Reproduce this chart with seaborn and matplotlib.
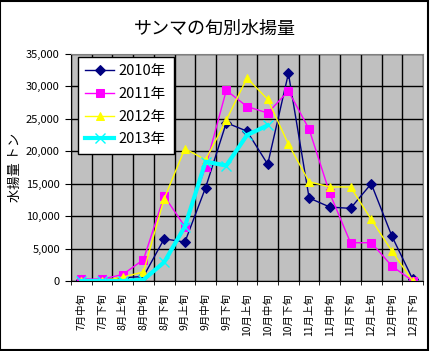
import matplotlib
matplotlib.use('Agg')
import matplotlib.pyplot as plt
from matplotlib.patches import Rectangle
from matplotlib.ticker import FuncFormatter, MultipleLocator
import seaborn as sns
import pandas as pd

# 旬のカテゴリ
periods = ['7月中旬', '7月下旬', '8月上旬', '8月中旬', '8月下旬', '9月上旬', '9月中旬',
           '9月下旬', '10月上旬', '10月中旬', '10月下旬', '11月上旬', '11月中旬',
           '11月下旬', '12月上旬', '12月中旬', '12月下旬']

# 年別の水揚量 (トン)
catch_2010 = [100, 100, 500, 700, 6500, 6000, 14400, 24400, 23100, 18000,
              32000, 12800, 11400, 11200, 15000, 6900, 300]
catch_2011 = [300, 300, 1000, 3300, 13100, 8400, 17600, 29400, 26900, 25900,
              29300, 23400, 13500, 5900, 5900, 2300, 0]
catch_2012 = [0, 0, 600, 1400, 12700, 20400, 18700, 24800, 31300, 28000,
              21100, 15300, 14500, 14500, 9500, 4600, 0]
catch_2013 = [0, 0, 0, 200, 2900, 8400, 18400, 17800, 22500, 24000]

series_names = ['2010年', '2011年', '2012年', '2013年']
series_data = [catch_2010, catch_2011, catch_2012, catch_2013]

styles = {
    '2010年': dict(color='#000080', marker='D', markersize=5, linewidth=1),
    '2011年': dict(color='#FF00FF', marker='s', markersize=5.5, linewidth=1),
    '2012年': dict(color='#FFFF00', marker='^', markersize=6, linewidth=1),
    '2013年': dict(color='#00FFFF', marker='x', markersize=7, linewidth=3,
                  markeredgewidth=1),
}

plt.rcParams['font.family'] = ['Noto Sans CJK JP', 'DejaVu Sans']

fig = plt.figure(figsize=(4.32, 3.51), dpi=100)
fig.patch.set_facecolor('white')
ax = fig.add_axes([71 / 432, 1 - 281 / 351, 352 / 432, 227 / 351])
ax.set_facecolor('#C0C0C0')

for name, vals in zip(series_names, series_data):
    df = pd.DataFrame({'旬': periods[:len(vals)], '水揚量': vals})
    st = styles[name]
    sns.lineplot(data=df, x='旬', y='水揚量', ax=ax, label=name, sort=False,
                 markeredgecolor=st['color'], markerfacecolor=st['color'], **st)

ax.set_xlim(-0.5, len(periods) - 0.5)
ax.set_ylim(0, 35000)
ax.yaxis.set_major_locator(MultipleLocator(5000))
ax.yaxis.set_major_formatter(FuncFormatter(lambda v, p: f'{v:,.0f}'))
ax.set_xticks(range(len(periods)))
ax.set_xticklabels(periods, rotation=90, fontsize=7.5)
ax.set_xticks([i - 0.5 for i in range(len(periods) + 1)], minor=True)
ax.tick_params(axis='x', which='major', length=0, pad=9)
ax.tick_params(axis='x', which='minor', length=3, color='black')
ax.tick_params(axis='y', length=4, color='black', labelsize=8, pad=4)

ax.grid(axis='y', which='major', color='black', linewidth=1)
ax.grid(axis='x', which='minor', color='black', linewidth=1)
ax.set_axisbelow(True)
for s in ['left', 'bottom']:
    ax.spines[s].set_color('black')
for s in ['top', 'right']:
    ax.spines[s].set_color('#808080')

ax.set_xlabel('')
ax.set_ylabel('水揚量 トン', fontsize=9.5, labelpad=3)

leg = ax.legend(loc='upper left', bbox_to_anchor=(0.02, 0.987), borderaxespad=0,
                fancybox=False, edgecolor='black', framealpha=1, fontsize=10.5,
                handlelength=2.0, labelspacing=0.6, borderpad=0.5,
                handletextpad=0.3)
leg.get_frame().set_linewidth(1)

fig.text(0.498, 0.918, 'サンマの旬別水揚量', ha='center', va='center', fontsize=13)

fig.patches.append(Rectangle((0.001, 0.002), 0.9895, 0.996, transform=fig.transFigure,
                             fill=False, edgecolor='black', linewidth=1.5))

fig.savefig('out.png', dpi=100)
